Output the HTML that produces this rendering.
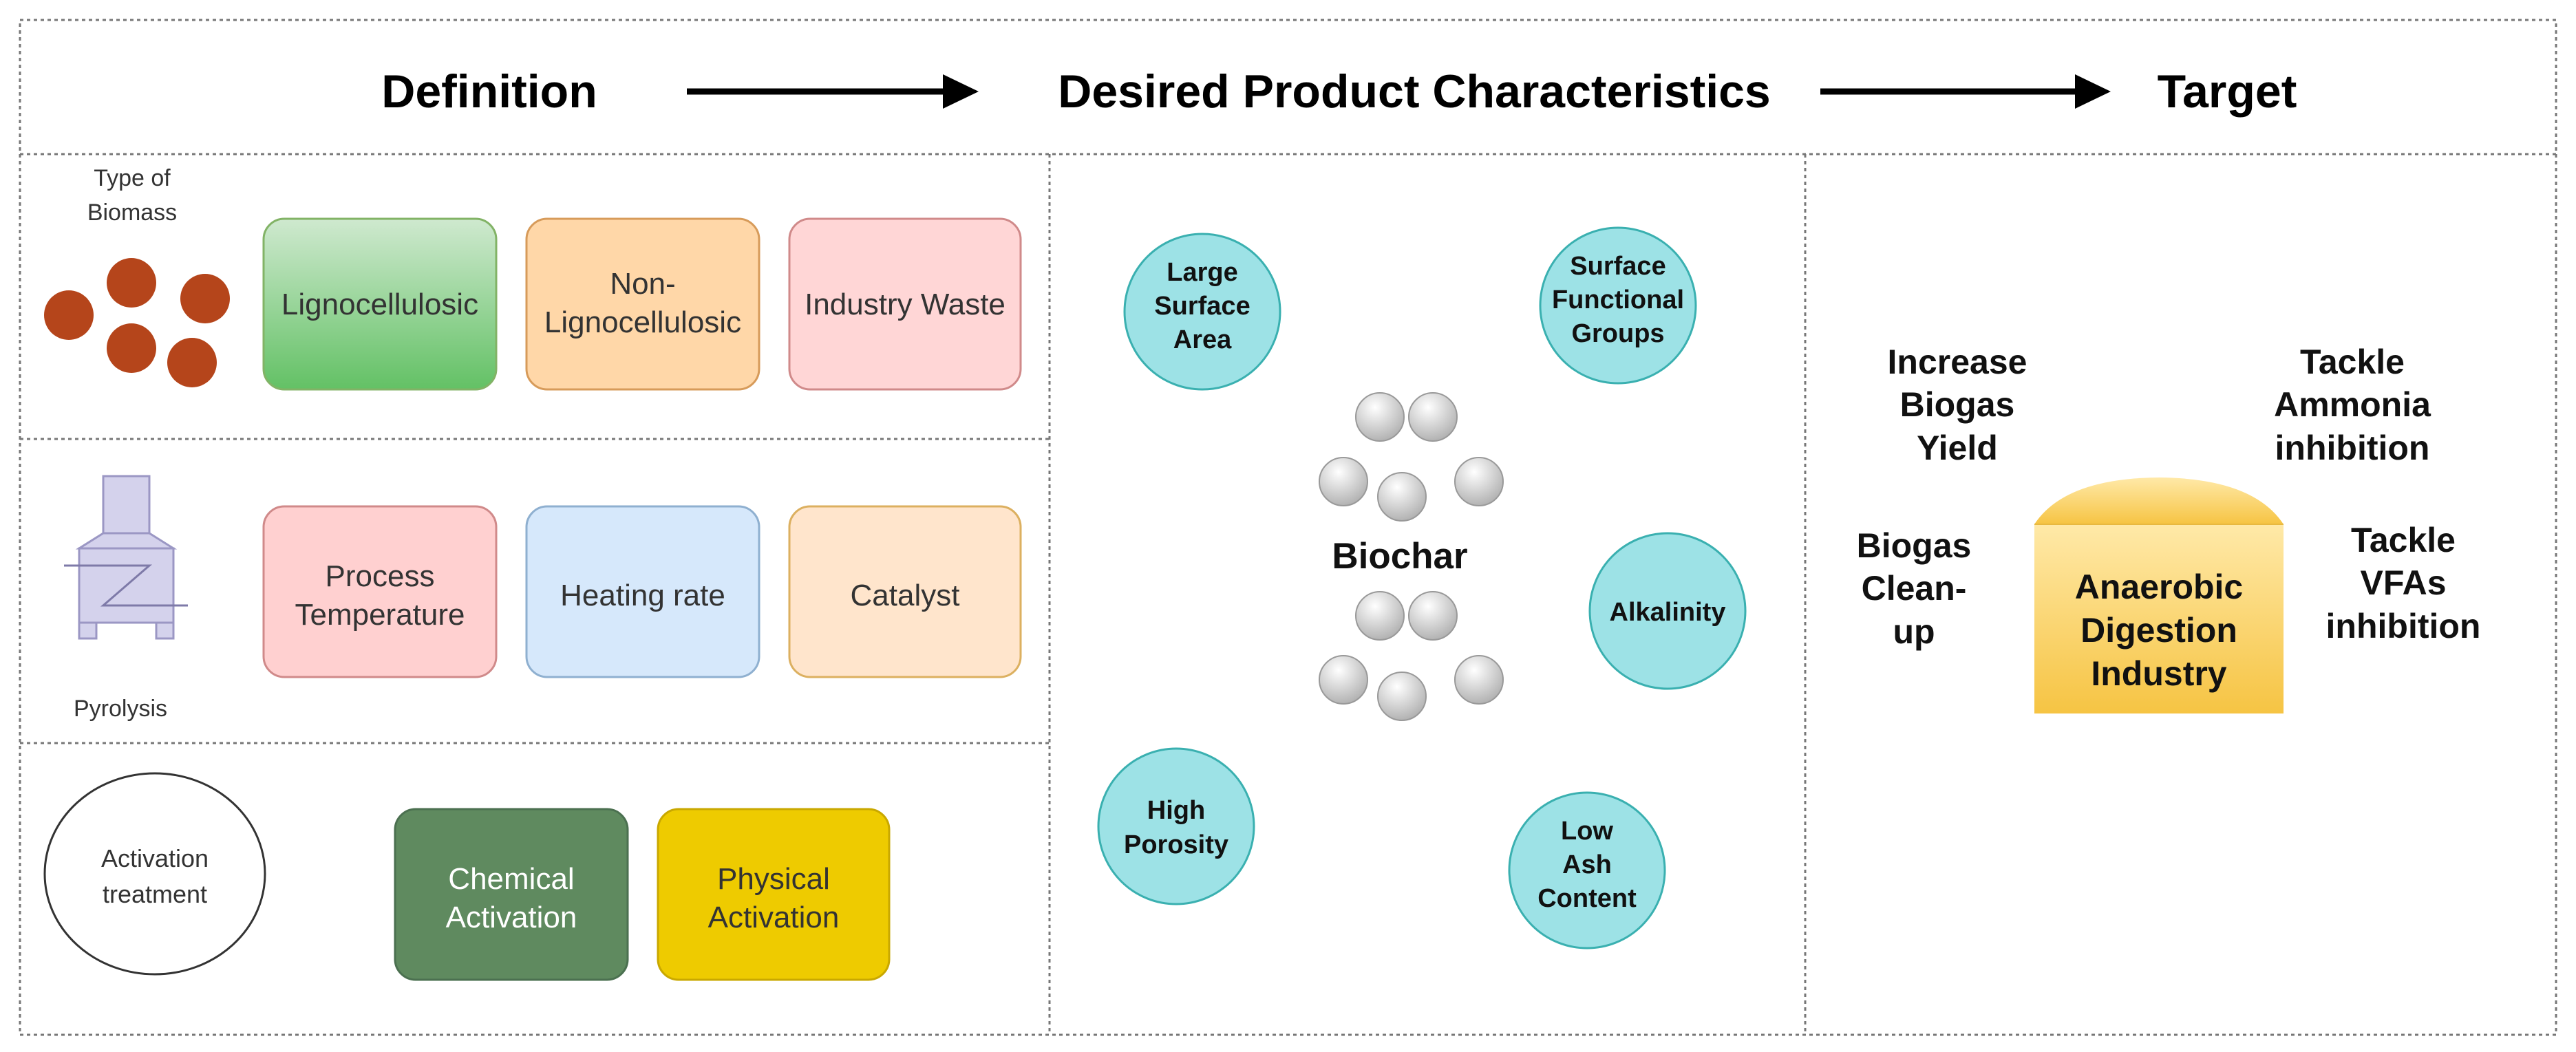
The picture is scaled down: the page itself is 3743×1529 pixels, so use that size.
<!DOCTYPE html>
<html><head><meta charset="utf-8"><style>
html,body{margin:0;padding:0;background:#fff;}
svg{display:block;}
text{font-family:"Liberation Sans",Arial,sans-serif;}
</style></head><body>
<svg width="3743" height="1529" viewBox="0 0 3743 1529" xmlns="http://www.w3.org/2000/svg">
<defs>
<linearGradient id="gl" x1="0" y1="0" x2="0" y2="1"><stop offset="0" stop-color="#cfe9cf"/><stop offset="1" stop-color="#63c165"/></linearGradient>
<linearGradient id="gt" x1="0" y1="0" x2="0" y2="1"><stop offset="0" stop-color="#ffe9a8"/><stop offset="1" stop-color="#f6c443"/></linearGradient>
<radialGradient id="gb" cx="0.4" cy="0.3" r="0.7"><stop offset="0" stop-color="#ffffff"/><stop offset="1" stop-color="#b3b3b3"/></radialGradient>
</defs>
<g fill="none" stroke="#777" stroke-width="3" stroke-dasharray="5,5">
<rect x="29" y="29" width="3685" height="1475"/>
<line x1="29" y1="224" x2="3714" y2="224"/>
<line x1="1525" y1="224" x2="1525" y2="1504"/>
<line x1="2623" y1="224" x2="2623" y2="1504"/>
<line x1="29" y1="638" x2="1525" y2="638"/>
<line x1="29" y1="1080" x2="1525" y2="1080"/>
</g>
<!-- header -->
<g font-weight="bold" font-size="68" fill="#000" text-anchor="middle">
<text x="711" y="156">Definition</text>
<text x="2055" y="156">Desired Product Characteristics</text>
<text x="3236" y="156">Target</text>
</g>
<line x1="998" y1="133" x2="1380" y2="133" stroke="#000" stroke-width="9"/>
<polygon points="1370,108 1422,133 1370,158" fill="#000"/>
<line x1="2645" y1="133" x2="3025" y2="133" stroke="#000" stroke-width="9"/>
<polygon points="3015,108 3067,133 3015,158" fill="#000"/>
<!-- row1 -->
<g font-size="34" fill="#333" text-anchor="middle">
<text x="192" y="270">Type of</text>
<text x="192" y="320">Biomass</text>
<text x="175" y="1041">Pyrolysis</text>
</g>
<g fill="#b5451b">
<circle cx="100" cy="458" r="36"/><circle cx="191" cy="411" r="36"/><circle cx="298" cy="434" r="36"/><circle cx="191" cy="506" r="36"/><circle cx="279" cy="527" r="36"/>
</g>
<g stroke-width="3">
<rect x="383" y="318" width="338" height="248" rx="30" fill="url(#gl)" stroke="#82b366"/>
<rect x="765" y="318" width="338" height="248" rx="30" fill="#ffd7a8" stroke="#d79b5a"/>
<rect x="1147" y="318" width="336" height="248" rx="30" fill="#ffd6d6" stroke="#d08a8a"/>
<rect x="383" y="736" width="338" height="248" rx="30" fill="#ffd0d0" stroke="#d08a8a"/>
<rect x="765" y="736" width="338" height="248" rx="30" fill="#d6e8fb" stroke="#8fb0d0"/>
<rect x="1147" y="736" width="336" height="248" rx="30" fill="#ffe5cc" stroke="#dcb060"/>
<rect x="574" y="1176" width="338" height="248" rx="30" fill="#5f8a5f" stroke="#4b7050"/>
<rect x="956" y="1176" width="336" height="248" rx="30" fill="#eecb00" stroke="#c9a800"/>
</g>
<g font-size="44" fill="#333" text-anchor="middle">
<text x="552" y="457">Lignocellulosic</text>
<text x="934" y="427">Non-</text>
<text x="934" y="483">Lignocellulosic</text>
<text x="1315" y="457">Industry Waste</text>
<text x="552" y="852">Process</text>
<text x="552" y="908">Temperature</text>
<text x="934" y="880">Heating rate</text>
<text x="1315" y="880">Catalyst</text>
<text x="743" y="1292" fill="#fff">Chemical</text>
<text x="743" y="1348" fill="#fff">Activation</text>
<text x="1124" y="1292">Physical</text>
<text x="1124" y="1348">Activation</text>
<text x="225" y="1260" font-size="36">Activation</text>
<text x="225" y="1312" font-size="36">treatment</text>
</g>
<ellipse cx="225" cy="1270" rx="160" ry="146" fill="none" stroke="#333" stroke-width="3"/>
<!-- pyrolysis icon -->
<g fill="#d4d2ec" stroke="#9b97c4" stroke-width="3">
<rect x="150" y="692" width="67" height="83"/>
<polygon points="150,775 217,775 252,797 115,797"/>
<rect x="115" y="797" width="137" height="108"/>
<rect x="115" y="905" width="25" height="23"/>
<rect x="227" y="905" width="25" height="23"/>
</g>
<polyline points="93,822 217,822 150,880 273,880" fill="none" stroke="#7e7aa8" stroke-width="3"/>
<!-- middle -->
<g fill="#9de2e6" stroke="#3ab0b0" stroke-width="3">
<circle cx="1747" cy="453" r="113"/>
<circle cx="2351" cy="444" r="113"/>
<circle cx="2423" cy="888" r="113"/>
<circle cx="1709" cy="1201" r="113"/>
<circle cx="2306" cy="1265" r="113"/>
</g>
<g font-size="38" font-weight="bold" fill="#111" text-anchor="middle">
<text x="1747" y="408">Large</text><text x="1747" y="457">Surface</text><text x="1747" y="506">Area</text>
<text x="2351" y="399">Surface</text><text x="2351" y="448">Functional</text><text x="2351" y="497">Groups</text>
<text x="2423" y="902">Alkalinity</text>
<text x="1709" y="1190">High</text><text x="1709" y="1240">Porosity</text>
<text x="2306" y="1220">Low</text><text x="2306" y="1269">Ash</text><text x="2306" y="1318">Content</text>
<text x="2034" y="826" font-size="53">Biochar</text>
</g>
<g fill="url(#gb)" stroke="#999" stroke-width="2">
<circle cx="2005" cy="606" r="35"/><circle cx="2082" cy="606" r="35"/><circle cx="1952" cy="700" r="35"/><circle cx="2037" cy="722" r="35"/><circle cx="2149" cy="700" r="35"/>
<circle cx="2005" cy="895" r="35"/><circle cx="2082" cy="895" r="35"/><circle cx="1952" cy="988" r="35"/><circle cx="2037" cy="1012" r="35"/><circle cx="2149" cy="988" r="35"/>
</g>
<!-- target -->
<path d="M2956,762 Q3000,695 3137,694 Q3274,695 3318,762 Z" fill="url(#gt)"/>
<rect x="2956" y="762" width="362" height="275" fill="url(#gt)"/>
<line x1="2956" y1="762" x2="3318" y2="762" stroke="#e8b840" stroke-width="2"/>
<g font-size="50" font-weight="bold" fill="#111" text-anchor="middle">
<text x="3137" y="870">Anaerobic</text><text x="3137" y="933">Digestion</text><text x="3137" y="996">Industry</text>
<text x="2844" y="543">Increase</text><text x="2844" y="605">Biogas</text><text x="2844" y="668">Yield</text>
<text x="3418" y="543">Tackle</text><text x="3418" y="605">Ammonia</text><text x="3418" y="668">inhibition</text>
<text x="2781" y="810">Biogas</text><text x="2781" y="872">Clean-</text><text x="2781" y="935">up</text>
<text x="3492" y="802">Tackle</text><text x="3492" y="864">VFAs</text><text x="3492" y="927">inhibition</text>
</g>
</svg>
</body></html>
